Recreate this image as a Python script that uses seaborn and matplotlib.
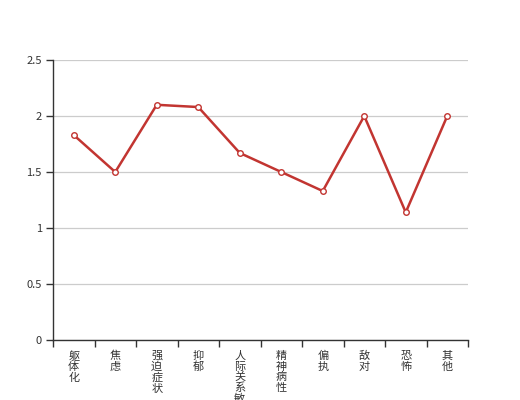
import matplotlib
matplotlib.use("Agg")
import matplotlib.pyplot as plt
from matplotlib.ticker import FixedLocator
import seaborn as sns
import pandas as pd

categories = ["躯体化", "焦虑", "强迫症状", "抑郁", "人际关系敏感", "精神病性", "偏执", "敌对", "恐怖", "其他"]
values = [1.83, 1.5, 2.1, 2.08, 1.67, 1.5, 1.33, 2.0, 1.14, 2.0]
yticks = [0, 0.5, 1, 1.5, 2, 2.5]
ytick_labels = ["0", "0.5", "1", "1.5", "2", "2.5"]

sns.set_style("white")
plt.rcParams["font.family"] = ["Noto Sans CJK SC", "DejaVu Sans"]

df = pd.DataFrame({"cat": categories, "val": values})

fig = plt.figure(figsize=(5.2, 4.0), dpi=100)
ax = fig.add_axes([53 / 520, 60 / 400, 415 / 520, 280 / 400])

sns.lineplot(data=df, x="cat", y="val", ax=ax, color="#c23531", linewidth=1.8,
             marker="o", markersize=4, markerfacecolor="white",
             markeredgecolor="#c23531", markeredgewidth=1.0, sort=False)

ax.set_xlim(-0.5, len(categories) - 0.5)
ax.set_ylim(0, 2.5)
ax.set_yticks(yticks)
ax.set_yticklabels(ytick_labels, color="#333333", fontsize=8)
ax.yaxis.grid(True, color="#cccccc", linewidth=0.9)
ax.set_axisbelow(True)

ax.set_xticks(range(len(categories)))
ax.set_xticklabels(["\n".join(c) for c in categories], fontsize=8, color="#333333",
                   linespacing=1.05, va="top")
ax.xaxis.set_minor_locator(FixedLocator([i - 0.5 for i in range(len(categories) + 1)]))
ax.tick_params(axis="x", which="major", bottom=True, length=0, pad=8)
ax.tick_params(axis="x", which="minor", bottom=True, length=5, width=1, color="#333333", direction="out")
ax.tick_params(axis="y", which="major", left=True, length=5, width=1, color="#333333", direction="out", pad=3)

ax.set_xlabel("")
ax.set_ylabel("")
for s in ["top", "right"]:
    ax.spines[s].set_visible(False)
for s in ["left", "bottom"]:
    ax.spines[s].set_color("#333333")
    ax.spines[s].set_linewidth(1)

fig.savefig("out.png", dpi=100)
